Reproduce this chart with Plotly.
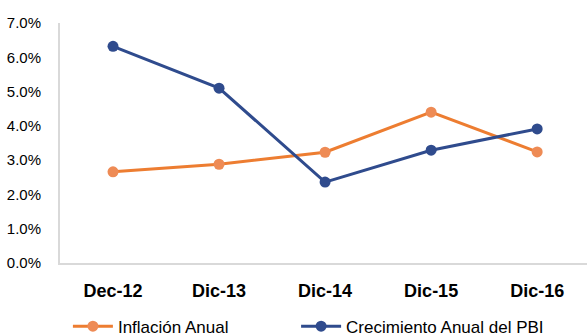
import plotly.graph_objects as go

# Period labels and annual rates (%)
periods = ["Dec-12", "Dic-13", "Dic-14", "Dic-15", "Dic-16"]
inflacion = [2.66, 2.88, 3.23, 4.40, 3.24]
crecimiento_pbi = [6.32, 5.10, 2.36, 3.29, 3.91]
y_ticks = [0, 1, 2, 3, 4, 5, 6, 7]
y_tick_labels = ["0.0%", "1.0%", "2.0%", "3.0%", "4.0%", "5.0%", "6.0%", "7.0%"]

ORANGE_LINE = "#ED7D31"
ORANGE_MARK = "#EE8B55"
BLUE = "#2F4B8D"
FONT = "Liberation Sans"

fig = go.Figure()
fig.add_trace(go.Scatter(
    x=periods, y=inflacion, name="Inflación Anual", mode="lines+markers",
    line=dict(color=ORANGE_LINE, width=3),
    marker=dict(color=ORANGE_MARK, size=11),
    legend="legend",
))
fig.add_trace(go.Scatter(
    x=periods, y=crecimiento_pbi, name="Crecimiento Anual del PBI", mode="lines+markers",
    line=dict(color=BLUE, width=3),
    marker=dict(color=BLUE, size=11),
    legend="legend2",
))

legend_common = dict(
    orientation="h", xanchor="left", y=-0.19, yanchor="top",
    font=dict(family=FONT, size=17, color="#000000"),
    bgcolor="rgba(0,0,0,0)", itemwidth=40,
)

fig.update_layout(
    width=587, height=333,
    margin=dict(l=60, r=0, t=23, b=70, autoexpand=False),
    paper_bgcolor="white", plot_bgcolor="white",
    font=dict(family=FONT, color="#000000"),
    showlegend=True,
    legend=dict(x=0.015, **legend_common),
    legend2=dict(x=0.448, **legend_common),
)
fig.update_xaxes(
    type="category", range=[-0.5, 4.47],
    showline=True, linecolor="#D9D9D9", linewidth=2,
    showgrid=False, zeroline=False, ticks="",
    tickfont=dict(family=FONT, size=18, color="#000000", weight="bold"),
    ticklabelstandoff=10,
)
fig.update_yaxes(
    range=[0, 7], tickvals=y_ticks, ticktext=y_tick_labels,
    showline=True, linecolor="#D9D9D9", linewidth=2,
    showgrid=False, zeroline=False, ticks="",
    tickfont=dict(family=FONT, size=15, color="#000000"),
    ticklabelstandoff=14,
)

fig.write_html("out.html")
